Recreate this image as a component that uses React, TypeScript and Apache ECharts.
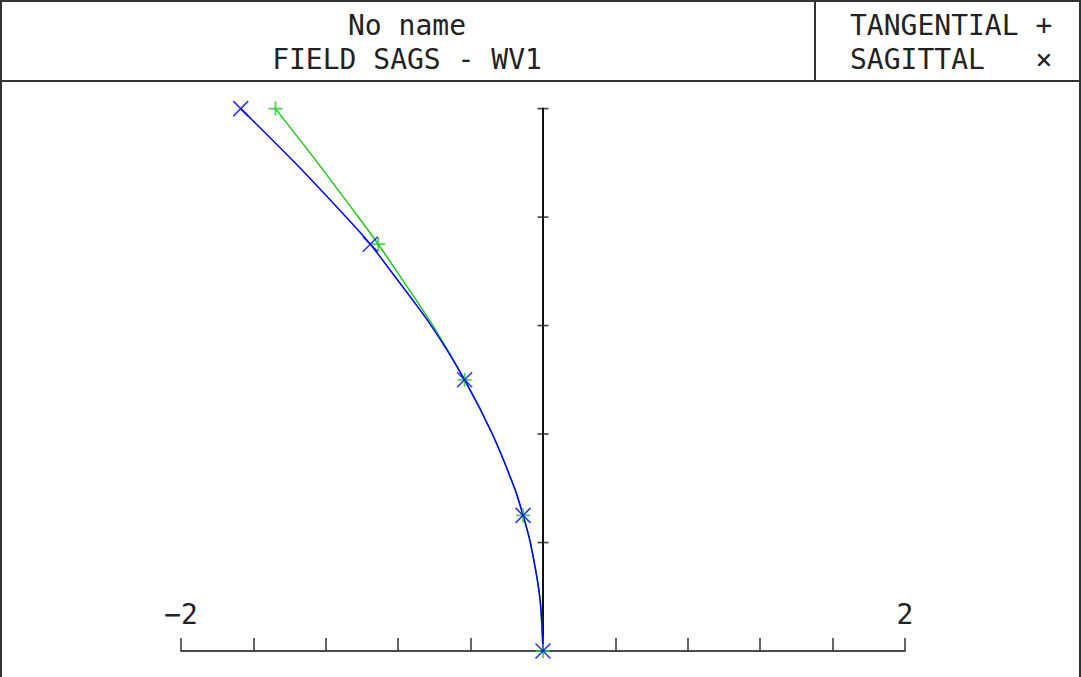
import React, { useEffect, useRef } from "react";
import * as echarts from "echarts";

// Relative field height (0 = axis, 1 = full field)
const fieldSamples = [0, 0.1, 0.2, 0.25, 0.3, 0.4, 0.5, 0.6, 0.7, 0.75, 0.8, 0.9, 1.0];
// Focus shift (field sag) for each sample
const tangentialShift = [0, -0.018, -0.07, -0.11, -0.157, -0.28, -0.433, -0.608, -0.808, -0.91, -1.02, -1.245, -1.478];
const sagittalShift = [0, -0.018, -0.07, -0.11, -0.157, -0.28, -0.433, -0.618, -0.84, -0.954, -1.088, -1.37, -1.67];
// Fields at which markers are drawn
const markerFields = [0, 0.25, 0.5, 0.75, 1.0];
// Tick marks on the field (vertical) axis
const yTickValues = [0.2, 0.4, 0.6, 0.8, 1.0];

const xMin = -2;
const xMax = 2;
const xStep = 0.4;
const yMin = 0;
const yMax = 1;
const yStep = 0.2;

const titleLines = ["No name", "FIELD SAGS - WV1"];
const legendLines = ["TANGENTIAL +", "SAGITTAL   ×"];

const GREEN = "#1ec81e";
const BLUE = "#0000ff";
const FONT = "'DejaVu Sans Mono', monospace";

const GRID_W = 724;

export default function App() {
  const ref = useRef<HTMLDivElement>(null);
  useEffect(() => {
    if (!ref.current) return;
    const chart = echarts.init(ref.current, null, { renderer: "svg" });
    const tanLine = fieldSamples.map((f, i) => [tangentialShift[i], f]);
    const sagLine = fieldSamples.map((f, i) => [sagittalShift[i], f]);
    const tanMarks = tanLine.filter((p) => markerFields.includes(p[1]));
    const sagMarks = sagLine.filter((p) => markerFields.includes(p[1]));
    const frame = { stroke: "#333", lineWidth: 2 };
    chart.setOption({
      animation: false,
      backgroundColor: "#fff",
      grid: {
        left: 181,
        top: 108.6,
        width: GRID_W,
        height: 542.4,
        containLabel: false,
        outerBoundsMode: "none",
      },
      xAxis: {
        type: "value",
        min: xMin,
        max: xMax,
        interval: xStep,
        position: "bottom",
        axisLine: { show: true, onZero: false, lineStyle: { color: "#111", width: 1.5 } },
        axisTick: { show: true, inside: true, length: 13, lineStyle: { color: "#333", width: 1.5 } },
        splitLine: { show: false },
        axisLabel: {
          inside: true,
          margin: 23,
          fontSize: 28,
          fontFamily: FONT,
          color: "#222",
          showMinLabel: true,
          showMaxLabel: true,
          formatter: (v: number) =>
            Math.abs(Math.abs(v) - 2) < 1e-9 ? (v < 0 ? "\u22122" : "2") : "",
        },
      },
      yAxis: {
        type: "value",
        min: yMin,
        max: yMax,
        interval: yStep,
        position: "left",
        axisLine: { show: true, onZero: true, lineStyle: { color: "#111", width: 2 } },
        axisTick: { show: false },
        axisLabel: { show: false },
        splitLine: { show: false },
      },
      series: [
        {
          // crossbar ticks on the field axis
          type: "scatter",
          data: yTickValues.map((v) => [0, v]),
          symbol: "rect",
          symbolSize: [11, 1.6],
          itemStyle: { color: "#111" },
          silent: true,
          z: 1,
        },
        {
          name: "TANGENTIAL",
          type: "line",
          data: tanLine,
          smooth: 0.3,
          showSymbol: false,
          lineStyle: { color: GREEN, width: 1.5 },
          z: 2,
        },
        {
          name: "SAGITTAL",
          type: "line",
          data: sagLine,
          smooth: 0.3,
          showSymbol: false,
          lineStyle: { color: BLUE, width: 1.5 },
          z: 3,
        },
        {
          type: "scatter",
          data: tanMarks,
          symbol: "path://M5,0L5,10M0,5L10,5",
          symbolSize: 14,
          itemStyle: { color: "none", borderColor: GREEN, borderWidth: 1.8 },
          z: 4,
        },
        {
          type: "scatter",
          data: sagMarks,
          symbol: "path://M0,0L10,10M10,0L0,10",
          symbolSize: 15,
          itemStyle: { color: "none", borderColor: BLUE, borderWidth: 1.6 },
          z: 5,
        },
      ],
      graphic: [
        { type: "line", shape: { x1: 0, y1: 1, x2: 1081, y2: 1 }, style: frame },
        { type: "line", shape: { x1: 1, y1: 0, x2: 1, y2: 677 }, style: frame },
        { type: "line", shape: { x1: 1080, y1: 0, x2: 1080, y2: 677 }, style: frame },
        { type: "line", shape: { x1: 0, y1: 81, x2: 1081, y2: 81 }, style: frame },
        { type: "line", shape: { x1: 815, y1: 0, x2: 815, y2: 81 }, style: frame },
        ...titleLines.map((t, i) => ({
          type: "text",
          x: 407,
          y: 25 + i * 34,
          style: {
            text: t,
            fontSize: 28,
            fontFamily: FONT,
            fill: "#222",
            align: "center",
            verticalAlign: "middle",
          },
        })),
        ...legendLines.map((t, i) => ({
          type: "text",
          x: 850,
          y: 25 + i * 34,
          style: {
            text: t,
            fontSize: 28,
            fontFamily: FONT,
            fill: "#222",
            align: "left",
            verticalAlign: "middle",
          },
        })),
      ],
    });
    return () => chart.dispose();
  }, []);
  return (
    <div
      ref={ref}
      style={{ position: "fixed", left: 0, top: 0, width: 1081, height: 677, background: "#fff" }}
    />
  );
}
